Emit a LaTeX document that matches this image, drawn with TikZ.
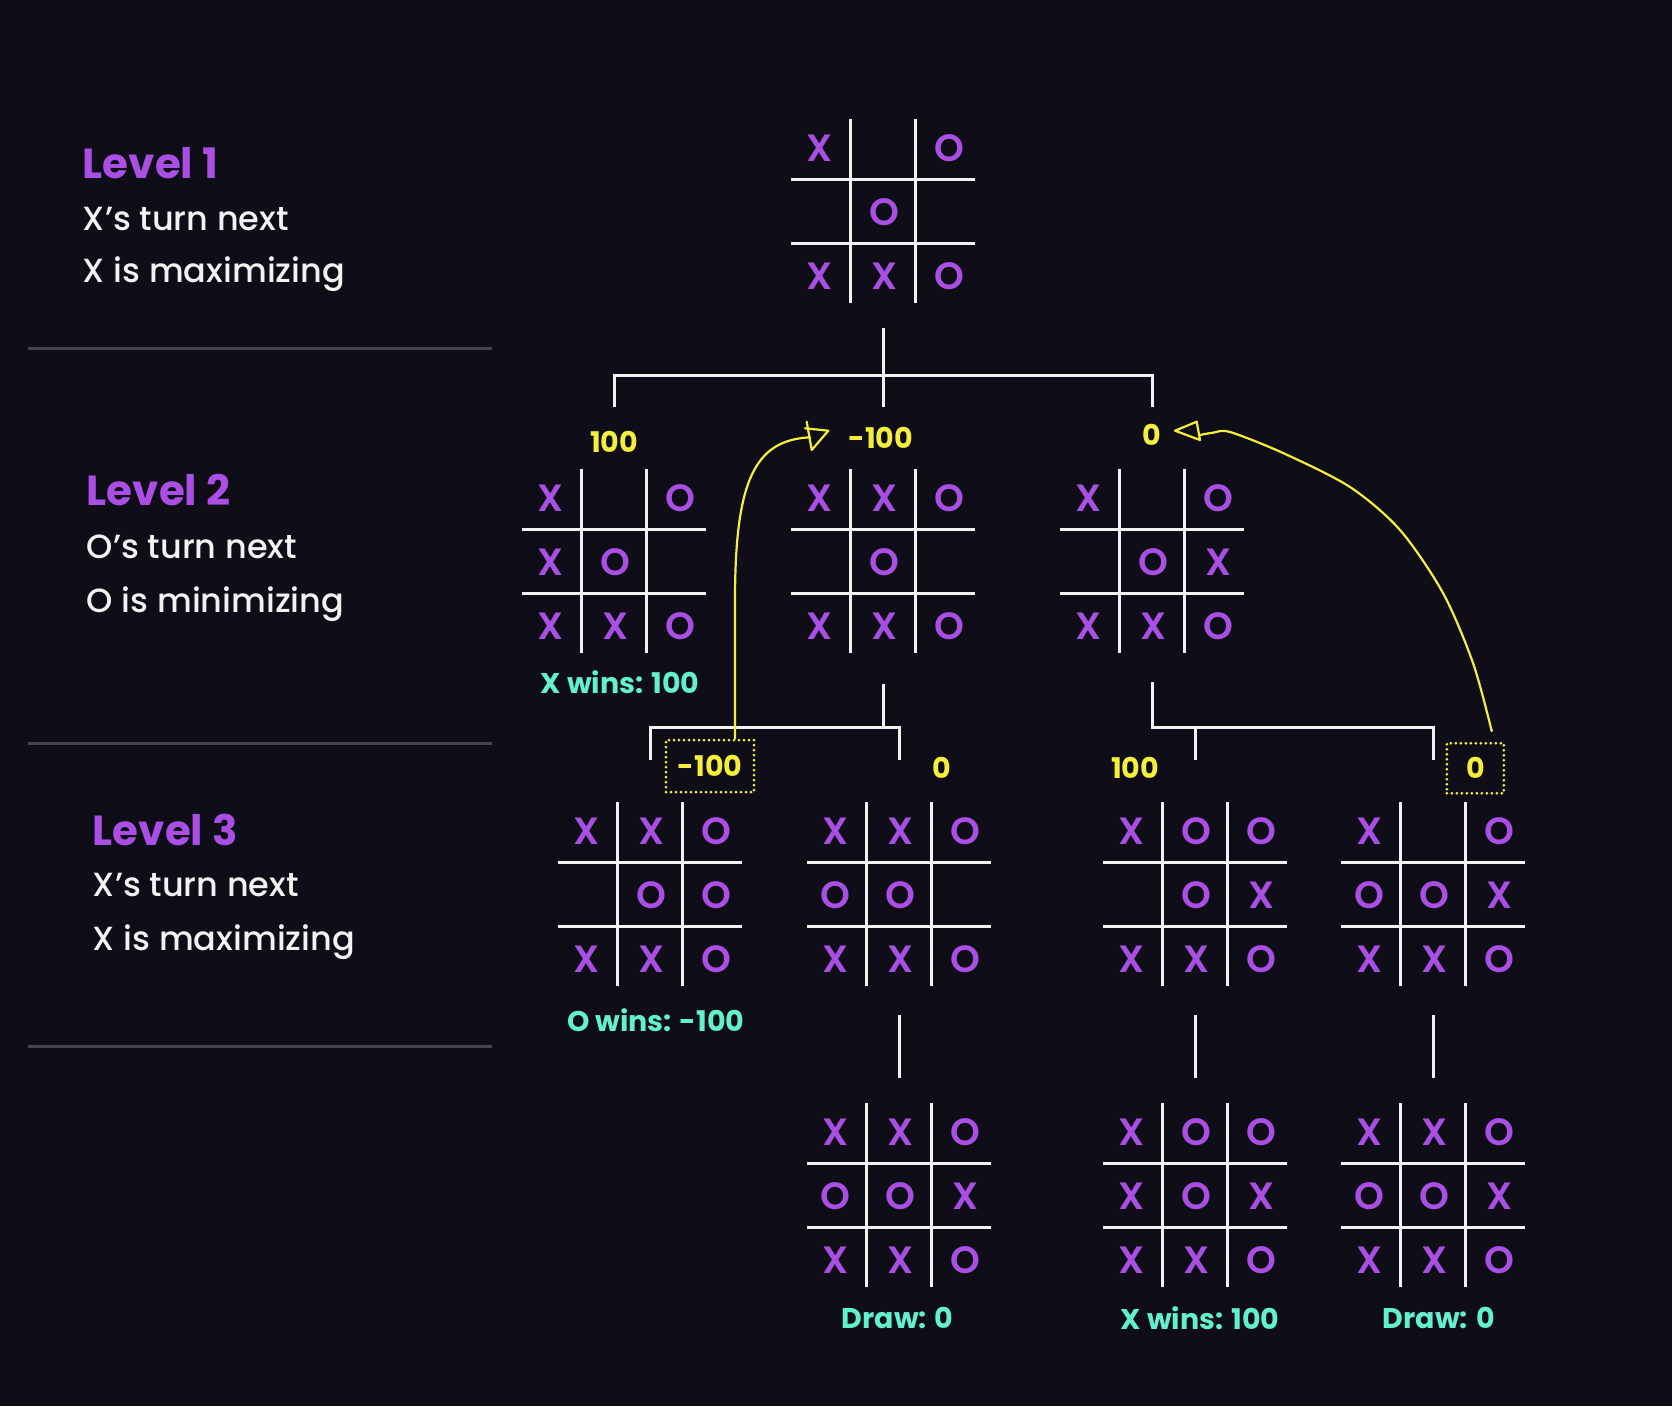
\documentclass[tikz,border=0pt]{standalone}
\usepackage{fontspec}
\setmainfont{Poppins}
\newfontfamily\pmed{Poppins Medium}
\newfontfamily\psemi{Poppins SemiBold}
\newfontfamily\pbold{Poppins Bold}
\definecolor{bgc}{HTML}{0E0D18}
\definecolor{purp}{HTML}{A94FE3}
\definecolor{txtwhite}{HTML}{F2F2F2}
\definecolor{yel}{HTML}{F4EE3C}
\definecolor{resteal}{HTML}{62F0CF}
\definecolor{sepgrey}{HTML}{45444F}
\tikzset{
  gridline/.style={draw=txtwhite, line width=3pt},
  piece/.style={text=purp, font={\psemi\fontsize{38pt}{40pt}\selectfont}, inner sep=0pt},
  conn/.style={draw=txtwhite, line width=3pt},
  val/.style={text=yel, font={\pbold\fontsize{28.5pt}{30pt}\selectfont}, inner sep=0pt},
  res/.style={text=resteal, font={\pbold\fontsize{28.5pt}{30pt}\selectfont}, inner sep=0pt},
  lvl/.style={text=purp, font={\pbold\fontsize{42pt}{45pt}\selectfont}, anchor=base west, inner sep=0pt},
  info/.style={text=txtwhite, font={\pmed\fontsize{33.5pt}{35pt}\selectfont}, anchor=base west, inner sep=0pt},
  sepline/.style={draw=sepgrey, line width=3pt},
  hand/.style={draw=yel, line width=2.2pt, line join=round, line cap=round},
  dotbox/.style={draw=yel, line width=3pt, dash pattern=on 0pt off 5pt, line cap=round}
}
\newcommand\tttboard[4]{%
  \node[minimum width=184pt, minimum height=184pt, inner sep=0pt] (#1) at (#2,#3) {};
  \draw[gridline] ([xshift=-32.5pt]#1.north) -- ([xshift=-32.5pt]#1.south)
    ([xshift=32.5pt]#1.north) -- ([xshift=32.5pt]#1.south)
    ([yshift=32pt]#1.west) -- ([yshift=32pt]#1.east)
    ([yshift=-32pt]#1.west) -- ([yshift=-32pt]#1.east);
  \foreach \s [count=\i from 0] in {#4} {
    \pgfmathtruncatemacro\cc{mod(\i,3)}
    \pgfmathtruncatemacro\rr{div(\i,3)}
    \if\s N\else
      \node[piece] at ([xshift={(\cc-1)*65pt+1.5pt}, yshift={(1-\rr)*64pt-1.5pt}]#1.center) {\s};
    \fi
  }}
\begin{document}
\begin{tikzpicture}[x=1pt,y=-1pt]
\fill[bgc] (0,0) rectangle (1672,1406);
\useasboundingbox (0,0) rectangle (1672,1406);

% left legend
\node[lvl] (l1) at (82.7,178.3) {Level 1};
\node[info] (l1a) at (82.7,230) {X’s turn next};
\node[info] (l1b) at (82.7,282.7) {X is maximizing};
\draw[sepline] (28,348.3) -- (491.7,348.3);
\node[lvl] (l2) at (86.7,505.2) {Level 2};
\node[info] (l2a) at (86.7,558.6) {O’s turn next};
\node[info] (l2b) at (86.7,612) {O is minimizing};
\draw[sepline] (28,743.5) -- (491.7,743.5);
\node[lvl] (l3) at (92.7,845) {Level 3};
\node[info] (l3a) at (92.7,896.5) {X’s turn next};
\node[info] (l3b) at (92.7,950) {X is maximizing};
\draw[sepline] (28,1046.7) -- (491.7,1046.7);

% boards
\tttboard{b0}{883}{211}{X,N,O,N,O,N,X,X,O}
\tttboard{bA}{614}{561}{X,N,O,X,O,N,X,X,O}
\tttboard{bB}{883}{561}{X,X,O,N,O,N,X,X,O}
\tttboard{bC}{1152}{561}{X,N,O,N,O,X,X,X,O}
\tttboard{bD}{650}{894}{X,X,O,N,O,O,X,X,O}
\tttboard{bE}{899}{894}{X,X,O,O,O,N,X,X,O}
\tttboard{bF}{1195}{894}{X,O,O,N,O,X,X,X,O}
\tttboard{bG}{1433}{894}{X,N,O,O,O,X,X,X,O}
\tttboard{bH}{899}{1195}{X,X,O,O,O,X,X,X,O}
\tttboard{bI}{1195}{1195}{X,O,O,X,O,X,X,X,O}
\tttboard{bJ}{1433}{1195}{X,X,O,O,O,X,X,X,O}

% connectors level 1 -> 2
\coordinate (t0) at (0,375);
\coordinate (t0e) at (0,407);
\draw[conn] ([yshift=-25pt]b0.south) -- (b0.center |- t0e);
\draw[conn] (bA.center |- t0e) -- (bA.center |- t0) -- (bC.center |- t0) -- (bC.center |- t0e);

% connectors level 2 -> 3
\coordinate (t1) at (0,727.5);
\coordinate (t1e) at (0,760);
\draw[conn] ([yshift=-31pt]bB.south) -- (bB.center |- t1);
\draw[conn] (bD.center |- t1e) -- (bD.center |- t1) -- (bE.center |- t1) -- (bE.center |- t1e);
\draw[conn] ([yshift=-29pt]bC.south) |- (bG.center |- t1) -- (bG.center |- t1e);
\draw[conn] (bF.center |- t1) -- (bF.center |- t1e);

% connectors level 3 -> 4
\draw[conn] ([yshift=-29pt]bE.south) -- ([yshift=25pt]bH.north);
\draw[conn] ([yshift=-29pt]bF.south) -- ([yshift=25pt]bI.north);
\draw[conn] ([yshift=-29pt]bG.south) -- ([yshift=25pt]bJ.north);

% values
\node[val] (v1a) at (614,441.7) {100};
\node[val] (v1b) at (880.8,438) {-100};
\node[val] (v1c) at (1151.7,435) {0};
\node[val,dotbox,minimum width=88pt,minimum height=52pt] (v2d) at (710,766) {-100};
\node[val] (v2e) at (941.7,768.3) {0};
\node[val] (v2f) at (1135,768.3) {100};
\node[val,dotbox,minimum width=57pt,minimum height=50pt] (v2g) at (1475.3,768.3) {0};

% results
\node[res] (rA) at (620,681.7) {X wins: 100};
\node[res] (rD) at (655.8,1020) {O wins: -100};
\node[res] (rH) at (897.6,1318) {Draw: 0};
\node[res] (rI) at (1200,1318) {X wins: 100};
\node[res] (rJ) at (1438.8,1318) {Draw: 0};

% yellow hand-drawn arrows
\draw[hand] ([xshift=25pt]v2d.north) -- (735,600) .. controls (735,480) and (755,440) .. (810,437.3);
\draw[hand] (806.7,421.7) -- (811.7,450) -- (828.3,430.7) -- (805,428.3);
\draw[hand] ([xshift=16.4pt,yshift=12pt]v2g.north) -- plot[smooth] coordinates {(1491.7,731) (1473,663) (1443,593) (1400,530) (1350,487) (1283,453) (1230,432) (1213,432.7) (1200,435)};
\draw[hand] (1196.7,421.7) -- (1175,430.7) -- (1200,440) -- cycle;
\end{tikzpicture}
\end{document}
